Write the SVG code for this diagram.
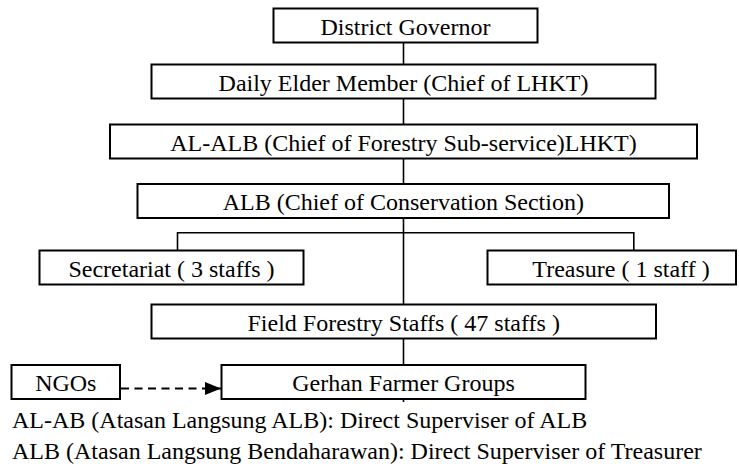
<svg xmlns="http://www.w3.org/2000/svg" width="739" height="466" viewBox="0 0 739 466">
<style>
.box{fill:#fff;stroke:#000;stroke-width:2}
.t{font-family:"Liberation Serif","Times New Roman",serif;font-size:24px;fill:#000}
.c{text-anchor:middle}
.ln{fill:none;stroke:#000;stroke-width:1.6}
.dash{fill:none;stroke:#000;stroke-width:1.8;stroke-dasharray:8 5.5}
</style>
<defs>
<marker id="ah" markerWidth="16" markerHeight="13" refX="16" refY="6.5" orient="auto" markerUnits="userSpaceOnUse">
<polygon points="0,0 16,6.5 0,13" fill="#000"/>
</marker>
</defs>
<rect width="739" height="466" fill="#fff"/>
<g id="connectors">
<line class="ln" x1="403.5" y1="42.5" x2="403.5" y2="64.5"/>
<line class="ln" x1="403.5" y1="98.5" x2="403.5" y2="124.5"/>
<line class="ln" x1="403.5" y1="158.5" x2="403.5" y2="184"/>
<line class="ln" x1="403.5" y1="218" x2="403.5" y2="304.5"/>
<line class="ln" x1="403.5" y1="338.5" x2="403.5" y2="402"/>
<path class="ln" d="M177.5 250.5 V232.7 H633.8 V250.5"/>
<line class="dash" x1="121" y1="388.5" x2="221" y2="388.5" marker-end="url(#ah)"/>
</g>
<g id="district-governor"><rect class="box" x="273.5" y="8.5" width="264" height="34"/><text class="t c" x="405.5" y="34.5">District Governor</text></g>
<g id="daily-elder"><rect class="box" x="151.5" y="64.5" width="504" height="34"/><text class="t c" x="403.5" y="90.5">Daily Elder Member (Chief of LHKT)</text></g>
<g id="al-alb"><rect class="box" x="110" y="124.5" width="587" height="34"/><text class="t c" x="403.5" y="150.5">AL-ALB (Chief of Forestry Sub-service)LHKT)</text></g>
<g id="alb"><rect class="box" x="137.5" y="184" width="531.5" height="34"/><text class="t c" x="403.3" y="210">ALB (Chief of Conservation Section)</text></g>
<g id="secretariat"><rect class="box" x="39.5" y="250.5" width="264" height="34"/><text class="t c" x="171.5" y="276.5">Secretariat ( 3 staffs )</text></g>
<g id="treasure"><rect class="box" x="487.5" y="250.5" width="248.5" height="34"/><text class="t c" x="621" y="276.5">Treasure ( 1 staff )</text></g>
<g id="field-forestry"><rect class="box" x="151.5" y="304.5" width="504.5" height="34"/><text class="t c" x="403.7" y="330.5">Field Forestry Staffs ( 47 staffs )</text></g>
<g id="ngos"><rect class="box" x="11.5" y="365" width="108.5" height="34"/><text class="t c" x="65.8" y="391">NGOs</text></g>
<g id="gerhan"><rect class="box" x="221.5" y="365" width="364" height="34"/><text class="t c" x="403.5" y="391">Gerhan Farmer Groups</text></g>
<g id="notes">
<text class="t" x="12" y="428">AL-AB (Atasan Langsung ALB): Direct Superviser of ALB</text>
<text class="t" x="12" y="459">ALB (Atasan Langsung Bendaharawan): Direct Superviser of Treasurer</text>
</g>
</svg>
